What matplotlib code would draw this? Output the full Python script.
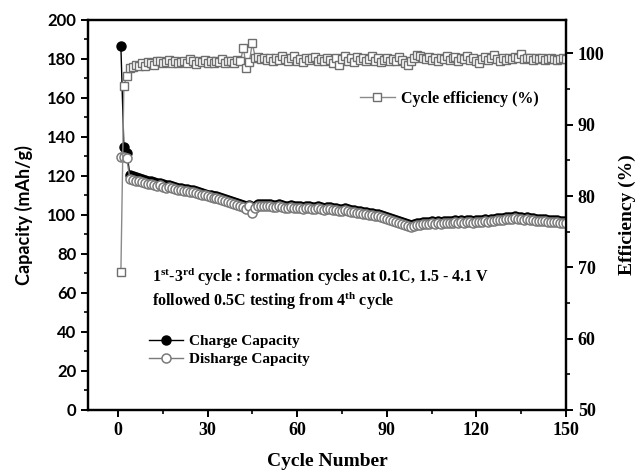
import matplotlib
matplotlib.use("Agg")
import matplotlib.pyplot as plt
from matplotlib.ticker import MultipleLocator

cycles = list(range(1, 151))

charge_capacity = [
    186.5, 135.0, 132.0, 120.5, 120.0, 119.5, 119.0, 118.5, 118.0, 117.5,
    117.5, 117.0, 116.5, 116.5, 116.0, 115.5, 115.5, 115.0, 114.5, 114.0,
    114.0, 113.5, 113.5, 113.0, 113.0, 112.5, 112.0, 111.5, 111.0, 110.5,
    110.0, 109.5, 109.5, 109.0, 108.5, 108.0, 107.5, 107.0, 106.5, 106.0,
    105.5, 105.0, 104.0, 105.0, 102.5, 104.5, 105.5, 105.5, 105.5, 105.5,
    105.5, 105.0, 105.0, 105.5, 105.0, 104.5, 104.5, 105.0, 104.5, 104.5,
    104.5, 104.0, 104.5, 104.5, 104.0, 104.0, 104.5, 104.0, 103.5, 104.0,
    104.0, 103.5, 103.5, 103.0, 103.0, 103.5, 103.0, 102.5, 102.5, 102.0,
    102.0, 101.5, 101.5, 101.0, 101.0, 100.5, 100.5, 100.0, 99.5, 99.0,
    98.5, 98.0, 97.5, 97.0, 96.5, 96.0, 95.5, 95.0, 95.5, 96.0,
    96.0, 96.5, 96.5, 96.5, 97.0, 96.5, 97.0, 96.5, 97.0, 97.0,
    97.0, 97.0, 97.5, 97.0, 97.5, 97.0, 97.5, 97.5, 97.0, 97.5,
    97.5, 97.5, 98.0, 97.5, 98.0, 98.0, 98.5, 98.5, 98.5, 99.0,
    99.0, 99.0, 99.5, 99.0, 99.0, 98.5, 99.0, 98.5, 98.5, 98.0,
    98.0, 98.0, 98.0, 97.5, 97.5, 97.5, 97.5, 97.0, 97.0, 97.0,
]

discharge_capacity = [
    129.5, 129.5, 129.0, 118.5, 118.0, 117.5, 117.5, 117.0, 116.5, 116.0,
    116.0, 115.5, 115.0, 115.5, 114.5, 114.0, 114.5, 114.0, 113.5, 113.0,
    113.0, 112.5, 112.5, 112.0, 112.0, 111.5, 111.0, 110.5, 110.0, 109.5,
    109.0, 108.5, 108.5, 108.0, 107.5, 107.0, 106.5, 106.0, 105.5, 105.0,
    104.5, 104.0, 103.0, 104.5, 101.0, 103.5, 104.5, 104.5, 104.5, 104.5,
    104.5, 104.0, 104.0, 104.5, 104.0, 103.5, 103.5, 104.0, 103.5, 103.5,
    103.5, 103.0, 103.5, 103.5, 103.0, 103.0, 103.5, 103.0, 102.5, 103.0,
    103.0, 102.5, 102.5, 102.0, 102.0, 102.5, 102.0, 101.5, 101.5, 101.0,
    101.0, 100.5, 100.5, 100.0, 100.0, 99.5, 99.5, 99.0, 98.5, 98.0,
    97.5, 97.0, 96.5, 96.0, 95.5, 95.0, 94.5, 94.0, 94.5, 95.0,
    95.0, 95.5, 95.5, 95.5, 96.0, 95.5, 96.0, 95.5, 96.0, 96.0,
    96.0, 96.0, 96.5, 96.0, 96.5, 96.0, 96.5, 96.5, 96.0, 96.5,
    96.5, 96.5, 97.0, 96.5, 97.0, 97.0, 97.5, 97.5, 97.5, 98.0,
    98.0, 98.0, 98.5, 98.0, 98.0, 97.5, 98.0, 97.5, 97.5, 97.0,
    97.0, 97.0, 97.0, 96.5, 96.5, 96.5, 96.5, 96.0, 96.0, 96.0,
]

efficiency = [
    69.3, 95.5, 96.8, 97.9, 98.1, 98.4, 98.2, 98.6, 98.3, 98.8,
    98.7, 98.4, 98.9, 99.0, 98.6, 98.8, 99.1, 98.7, 98.9, 98.6,
    98.8, 99.0, 98.7, 99.2, 98.9, 98.5, 99.0, 98.8, 99.1, 98.7,
    98.9, 98.6, 99.0, 98.8, 99.2, 98.7, 98.9, 99.0, 98.6, 99.1,
    98.9, 100.8, 98.0, 98.8, 101.5, 99.3, 99.5, 99.2, 99.4, 99.1,
    99.3, 99.0, 99.4, 99.1, 99.6, 99.2, 98.9, 99.3, 99.7, 99.0,
    99.2, 98.8, 99.4, 99.1, 99.3, 99.5, 98.9, 99.2, 99.0, 99.4,
    99.1, 98.7, 99.3, 98.4, 99.2, 99.6, 99.0, 99.3, 98.8, 99.5,
    99.1, 99.4, 98.9, 99.2, 99.7, 99.0, 99.3, 98.8, 99.1, 99.4,
    99.0, 99.2, 98.9, 99.5, 99.1, 98.7, 98.4, 99.0, 99.3, 99.8,
    99.6, 99.4, 99.2, 99.5, 99.1, 99.3, 99.0, 99.4, 99.2, 99.6,
    99.1, 99.3, 99.5, 99.0, 99.4, 99.2, 99.7, 99.1, 99.3, 98.9,
    98.6, 99.2, 99.5, 99.1, 99.4, 99.8, 99.2, 99.0, 99.3, 99.1,
    99.4, 99.2, 99.5, 99.3, 99.9, 99.2, 99.4, 99.3, 99.1, 99.3,
    99.2, 99.3, 99.1, 99.2, 99.3, 99.2, 99.1, 99.2, 99.3, 99.2,
]

serif = "Liberation Serif"
sans = "Lato"
plt.rcParams["mathtext.fontset"] = "custom"
plt.rcParams["mathtext.rm"] = "Liberation Serif:bold"

fig = plt.figure(figsize=(6.36, 4.70), dpi=100)
ax = fig.add_axes([0.1384, 0.1277, 0.7516, 0.8298])
ax2 = ax.twinx()

gray = "#7a7a7a"
ax.plot(cycles, charge_capacity, color="black", lw=1.0, marker="o", ms=6.5,
        mfc="black", mec="black", label="Charge Capacity", zorder=3)
ax.plot(cycles, discharge_capacity, color=gray, lw=1.0, marker="o", ms=6.5,
        mfc="white", mec=gray, mew=1.1, label="Disharge Capacity", zorder=4)
ax2.plot(cycles, efficiency, color="#8a8a8a", lw=1.0, marker="s", ms=6,
         mfc="white", mec="#6e6e6e", mew=1.0, label="Cycle efficiency (%)")

ax.set_xlim(-10, 150)
ax.set_ylim(0, 200)
ax2.set_ylim(50, 104.7)

ax.xaxis.set_major_locator(MultipleLocator(30))
ax.xaxis.set_minor_locator(MultipleLocator(15))
ax.yaxis.set_major_locator(MultipleLocator(20))
ax.yaxis.set_minor_locator(MultipleLocator(10))
ax2.yaxis.set_major_locator(MultipleLocator(10))
ax2.yaxis.set_minor_locator(MultipleLocator(5))

for a in (ax, ax2):
    for s in a.spines.values():
        s.set_linewidth(1.6)
ax.tick_params(axis="both", which="major", direction="out", length=5, width=1.4)
ax.tick_params(axis="both", which="minor", direction="out", length=3, width=1.2)
ax2.tick_params(axis="y", which="major", direction="out", length=5, width=1.4)
ax2.tick_params(axis="y", which="minor", direction="out", length=3, width=1.2)

for lab in ax.get_yticklabels():
    lab.set_fontfamily(sans); lab.set_fontweight("bold"); lab.set_fontsize(12)
for lab in ax.get_xticklabels():
    lab.set_fontfamily(serif); lab.set_fontweight("bold"); lab.set_fontsize(13)
for lab in ax2.get_yticklabels():
    lab.set_fontfamily(serif); lab.set_fontweight("bold"); lab.set_fontsize(13)

ax.set_ylabel("Capacity (mAh/g)", fontfamily=sans, fontweight="bold", fontsize=13, labelpad=10)
ax2.set_ylabel("Efficiency (%)", fontfamily=serif, fontweight="bold", fontsize=14, labelpad=10)
ax.set_xlabel("Cycle Number", fontfamily=serif, fontweight="bold", fontsize=14, labelpad=10)

leg1 = ax.legend(loc="upper left", bbox_to_anchor=(0.115, 0.21), frameon=False,
                 prop={"family": serif, "weight": "bold", "size": 11},
                 handlelength=2.2, handletextpad=0.4, labelspacing=0.3, borderaxespad=0)
leg2 = ax2.legend(loc="upper left", bbox_to_anchor=(0.555, 0.835), frameon=False,
                  prop={"family": serif, "weight": "bold", "size": 11.5},
                  handlelength=2.2, handletextpad=0.4, borderaxespad=0)

ax.text(0.134, 0.341, r"1$^{\mathrm{st}}$-3$^{\mathrm{rd}}$ cycle : formation cycles at 0.1C, 1.5 - 4.1 V",
        transform=ax.transAxes, fontfamily=serif, fontweight="bold", fontsize=11.5, va="center")
ax.text(0.134, 0.28, r"followed 0.5C testing from 4$^{\mathrm{th}}$ cycle",
        transform=ax.transAxes, fontfamily=serif, fontweight="bold", fontsize=11.5, va="center")

fig.savefig("out.png", dpi=100)
